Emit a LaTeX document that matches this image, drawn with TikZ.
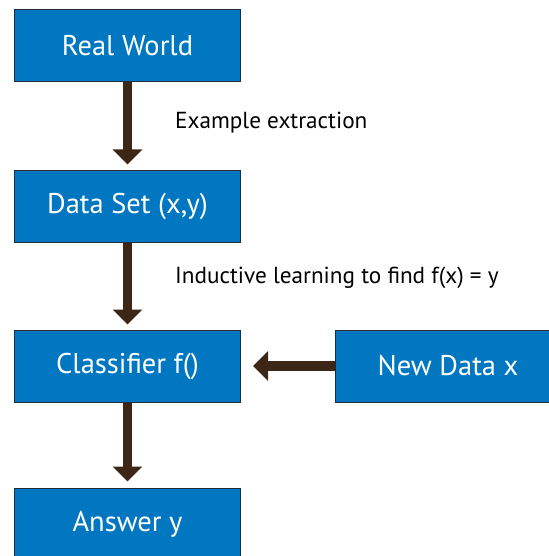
\documentclass[tikz,border=0pt]{standalone}
\usepackage{fontspec}
\setmainfont{PT Sans}
\usetikzlibrary{arrows.meta, positioning}
\definecolor{boxblue}{RGB}{0,119,192}
\definecolor{boxedge}{RGB}{28,45,62}
\definecolor{arrowbrown}{RGB}{60,38,22}
\tikzset{
    stagebox/.style={draw=boxedge, line width=1pt, fill=boxblue, text=white,
        minimum width=226pt, minimum height=72pt, inner sep=0pt,
        font=\fontsize{28.5}{31}\selectfont},
    flowarrow/.style={draw=arrowbrown, line width=9.5pt,
        -{Triangle[width=29pt,length=15pt]}, arrowbrown},
    steplabel/.style={anchor=west, inner sep=0pt, font=\fontsize{23.2}{26}\selectfont}
}
\begin{document}
\begin{tikzpicture}[x=1pt,y=1pt]
            \useasboundingbox (0,0) rectangle (548,-556);
            \node [stagebox] (world) at (127.5,-46) {Real World};
            \node [stagebox] (data) at (127.5,-206) {Data Set (x,y)};
            \node [stagebox] (classifier) at (127.5,-366) {Classifier f()};
            \node [stagebox] (answer) at (127.5,-524) {Answer y};
            \node [stagebox] (newdata) at (448,-366) {New Data x};
            \draw [flowarrow, shorten >=5pt] (world) -- (data);
            \draw [flowarrow, shorten >=5pt] (data) -- (classifier);
            \draw [flowarrow, shorten >=6pt] (classifier) -- (answer);
            \draw [flowarrow, shorten >=12pt] (newdata) -- (classifier);
            \node [steplabel] (extract) at (175,-123) {Example extraction};
            \node [steplabel] (induce) at (175,-278) {Inductive learning to find f(x) = y};
\end{tikzpicture}
\end{document}
